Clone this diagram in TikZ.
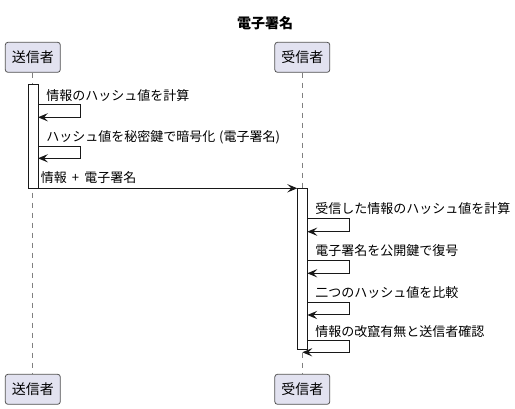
\documentclass[tikz,border=0pt]{standalone}
\usepackage{fontspec}
\setmainfont{Noto Sans CJK JP}
\usetikzlibrary{arrows.meta}
\definecolor{umlfill}{RGB}{226,226,240}
\definecolor{umlline}{RGB}{24,24,24}

\begin{document}
\begin{tikzpicture}[
    x=0.75pt, y=-0.75pt,
    actor/.style={rectangle, draw=umlline!75, line width=0.6pt, fill=umlfill, rounded corners=2pt, minimum width=41.25pt, minimum height=22.5pt, inner sep=0pt, font=\fontsize{10.5pt}{12pt}\selectfont},
    lifeline/.style={draw=umlline!55, line width=0.5pt, dash pattern=on 3.75pt off 3.75pt},
    actbar/.style={draw=umlline, line width=0.75pt, fill=white},
    msg/.style={draw=umlline, line width=0.75pt, -{Stealth[length=7.5pt, width=6.2pt, inset=3pt]}},
    msgtext/.style={anchor=west, inner sep=0pt, font=\fontsize{9.75pt}{12pt}\selectfont}
]
\useasboundingbox (0,0) rectangle (515,409);

% Title
\node[font=\bfseries\fontsize{10.5pt}{12pt}\selectfont] (title) at (265,23) {電子署名};

% Participants (top and bottom)
\node[actor] (sndTop) at (32.8,57.3) {送信者};
\node[actor] (rcvTop) at (302.3,57.3) {受信者};
\node[actor] (sndBot) at (32.8,389.3) {送信者};
\node[actor] (rcvBot) at (302.3,389.3) {受信者};

% Lifelines
\draw[lifeline] (sndTop.south) -- (sndBot.north);
\draw[lifeline] (rcvTop.south) -- (rcvBot.north);

% Activation bars
\draw[actbar] (28,85) rectangle (38,188.3);
\draw[actbar] (297.3,188.3) rectangle (307.3,350);

% Sender: self messages
\node[msgtext] (hashS) at (46,96) {情報のハッシュ値を計算};
\coordinate (hashSa) at (38,104.3);
\coordinate (hashSb) at (38,117.3);
\draw[msg] (hashSa) -- ++(42.5,0) |- (hashSb);

\node[msgtext] (sign) at (46,137) {ハッシュ値を秘密鍵で暗号化\hspace{0.3em}(電子署名)};
\coordinate (signa) at (38,146.7);
\coordinate (signb) at (38,158.3);
\draw[msg] (signa) -- ++(42.5,0) |- (signb);

% Sender to receiver
\node[msgtext] (send) at (40.5,178) {情報\hspace{0.4em}+\hspace{0.4em}電子署名};
\coordinate (senda) at (38,188.3);
\coordinate (sendb) at (297.3,188.3);
\draw[msg] (senda) -- (sendb);

% Receiver: self messages
\node[msgtext] (hashR) at (315,209) {受信した情報のハッシュ値を計算};
\coordinate (hashRa) at (307.3,218.3);
\coordinate (hashRb) at (307.3,231.7);
\draw[msg] (hashRa) -- ++(42,0) |- (hashRb);

\node[msgtext] (decr) at (315,250.7) {電子署名を公開鍵で復号};
\coordinate (decra) at (307.3,260.7);
\coordinate (decrb) at (307.3,273.3);
\draw[msg] (decra) -- ++(42,0) |- (decrb);

\node[msgtext] (comp) at (315,292.3) {二つのハッシュ値を比較};
\coordinate (compa) at (307.3,302.3);
\coordinate (compb) at (307.3,315);
\draw[msg] (compa) -- ++(42,0) |- (compb);

\node[msgtext] (check) at (315,331.7) {情報の改竄有無と送信者確認};
\coordinate (checka) at (307.3,340.7);
\coordinate (checkb) at (302.3,352.3);
\draw[msg] (checka) -- ++(42,0) |- (checkb);

\end{tikzpicture}
\end{document}
